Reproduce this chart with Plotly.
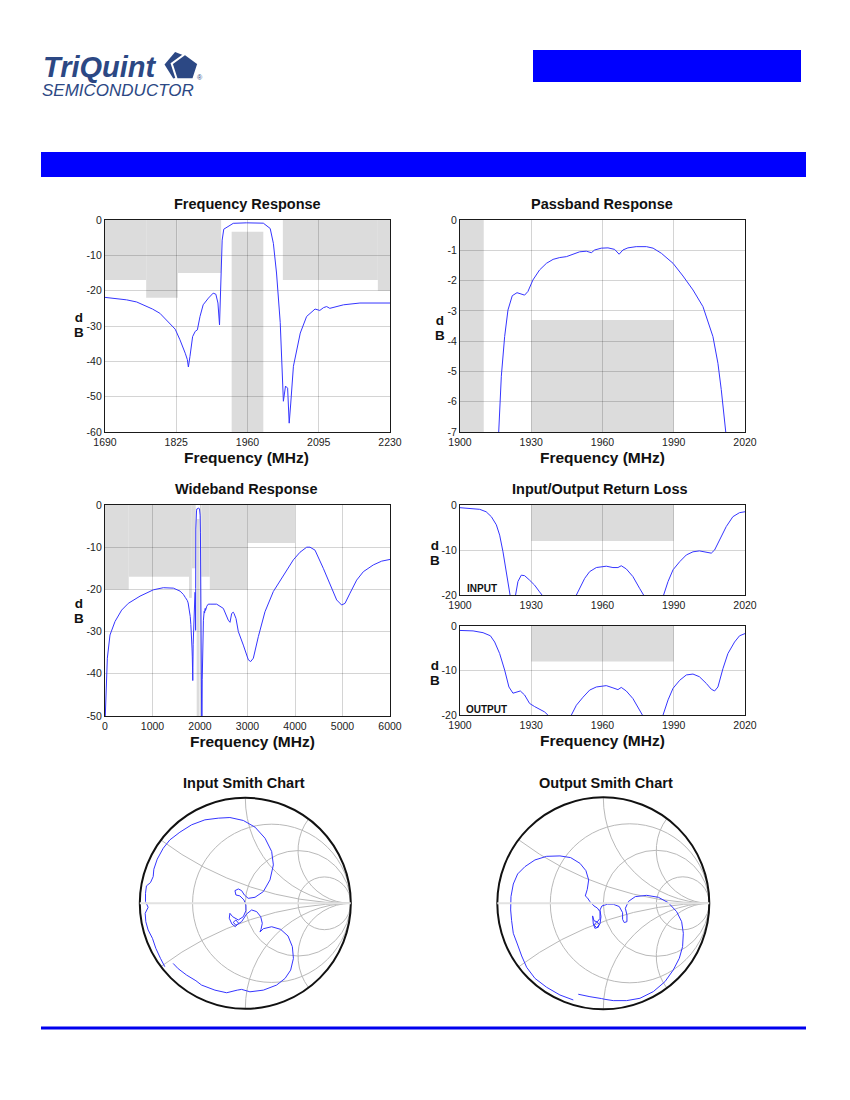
import numpy as np
import plotly.graph_objects as go

W, H = 850, 1100
OFF = 8  # the page body adds an 8 px margin around the figure

# ---- curves ----
fr_f = [1690, 1710, 1731, 1750, 1763, 1780, 1794, 1807, 1815, 1823, 1832, 1838, 1842, 1846, 1848,
        1851, 1856, 1861, 1865, 1870, 1876, 1886, 1895, 1900, 1904, 1907, 1909, 1912, 1915, 1920,
        1927, 1933, 1958, 1975, 1990, 2003, 2009, 2015, 2022, 2028, 2032, 2036, 2039, 2042, 2047,
        2060, 2072, 2088, 2097, 2104, 2110, 2116, 2142, 2173, 2230]
fr_db = [-21.9, -22.2, -22.6, -23.2, -24.0, -25.2, -26.4, -28.3, -29.5, -30.9, -33.9, -36.0, -37.7, -39.5, -41.6,
         -38.6, -33.0, -31.5, -31.1, -27.3, -24.0, -22.1, -20.7, -21.0, -23.5, -29.7, -19.8, -5.7, -2.6, -2.2,
         -1.4, -0.94, -0.8, -0.75, -0.9, -2.4, -6.6, -15.0, -29.0, -51.3, -47.0, -47.6, -57.5, -51.8, -41.4,
         -32.0, -27.3, -25.2, -25.6, -24.8, -24.5, -25.0, -24.0, -23.5, -23.5]

pb_f = [1915.8, 1916.3, 1917.4, 1918.8, 1920.2, 1922.0, 1924.0, 1925.8, 1927.2, 1928.6,
        1930.7, 1933.5, 1936.4, 1939.2, 1942.0, 1944.8, 1947.6, 1950.4, 1953.2, 1955.3,
        1956.7, 1959.5, 1962.3, 1965.1, 1967.0, 1968.6, 1970.7, 1974.2, 1978.5, 1981.3,
        1984.8, 1989.7, 1993.9, 1998.1, 2002.3, 2006.5, 2008.6, 2010.0, 2011.9, 2012.3]
pb_db = [-7.6, -7.0, -5.16, -3.85, -2.97, -2.5, -2.4, -2.44, -2.48, -2.36,
         -1.98, -1.65, -1.43, -1.3, -1.24, -1.21, -1.12, -1.05, -1.03, -1.08,
         -0.99, -0.93, -0.92, -0.97, -1.13, -0.99, -0.92, -0.88, -0.88, -0.93,
         -1.1, -1.43, -1.85, -2.31, -2.86, -3.85, -4.73, -5.6, -7.0, -7.5]

wb_lo_f = [0, 21, 49, 105, 211, 351, 491, 737, 1018, 1228, 1439, 1579, 1650]
wb_lo_db = [-52, -42.6, -36.3, -30.8, -27.6, -24.9, -23.3, -21.6, -20.1, -19.6, -19.7, -20.4, -21.2]
wb_hi_f = [2351, 2491, 2596, 2632, 2667, 2700, 2716, 2758, 2807, 2912, 3018, 3067, 3123, 3228, 3368,
           3544, 3754, 3965, 4105, 4246, 4316, 4421, 4596, 4737, 4877, 4982, 5053, 5158, 5298, 5439,
           5649, 5825, 6000]
wb_hi_db = [-23.5, -24.5, -27.3, -27.8, -25.7, -25.4, -25.7, -26.9, -30.0, -33.2, -36.7, -37.1, -36.3, -31.2, -25.3,
            -20.5, -16.6, -13.0, -11.2, -10.0, -10.0, -10.7, -15.0, -19.0, -22.5, -23.7, -23.3, -20.9, -17.8, -15.8,
            -14.2, -13.3, -12.9]

rl_in_f = [1900, 1904, 1908.3, 1911, 1913.2, 1915.3, 1916.7, 1918.1, 1919.5, 1920.6,
           1922.0, 1923.4, 1924.4, 1925.8, 1927.2, 1929.3, 1931.4, 1933.5, 1934.7, 1942,
           1949, 1950.4, 1952.5, 1954.6, 1957.4, 1961.6, 1964.4, 1966.5, 1967.9, 1970,
           1972.8, 1975.6, 1977.3, 1982, 1985.9, 1987.6, 1989.7, 1992.5, 1995.3, 1998.1,
           2000.8, 2003.7, 2005.8, 2007.2, 2009.3, 2012.1, 2014.9, 2017.7, 2020]
rl_in_db = [-0.6, -0.74, -0.96, -1.5, -2.6, -4.4, -6.7, -10.4, -15.6, -20.0,
            -23.0, -20.0, -17.0, -15.6, -15.7, -16.7, -17.8, -19.3, -20.0, -25.0,
            -20.0, -18.5, -16.3, -14.8, -13.9, -13.6, -13.9, -13.9, -13.5, -14.2,
            -15.9, -18.5, -20.0, -26.0, -20.0, -17.0, -14.4, -12.6, -11.1, -10.4,
            -10.2, -10.5, -10.7, -10.0, -7.8, -4.8, -2.6, -1.7, -1.5]

rl_out_f = [1900, 1905.5, 1909.7, 1912.8, 1914.6, 1916.7, 1918.8, 1920.6, 1922.3, 1923.7,
            1925.4, 1927.2, 1929.3, 1931.4, 1933.5, 1935.6, 1937.0, 1942, 1946.9, 1949.0,
            1951.8, 1954.6, 1957.4, 1961.6, 1964.4, 1966.5, 1967.9, 1970.0, 1972.8, 1974.9,
            1976.8, 1981, 1985.5, 1987.6, 1989.7, 1992.5, 1995.3, 1998.1, 2000.8, 2003.7,
            2005.8, 2007.2, 2008.6, 2010.7, 2012.8, 2015.6, 2017.7, 2020]
rl_out_db = [-1.0, -1.1, -1.5, -2.2, -3.6, -6.2, -9.9, -13.7, -15.1, -14.9,
             -14.6, -15.5, -17.4, -18.1, -18.7, -19.3, -20.0, -24.0, -20.0, -17.8,
             -16.0, -14.4, -13.7, -13.4, -13.9, -14.3, -13.8, -14.6, -16.3, -18.1,
             -20.0, -26.0, -20.0, -16.6, -14.0, -12.2, -11.0, -10.8, -11.4, -12.9,
             -14.2, -14.6, -13.7, -9.6, -6.2, -3.6, -2.2, -1.7]

# reflection coefficient (gamma) traces
s11_re = [-0.763, -0.804, -0.848, -0.880, -0.921, -0.943, -0.949, -0.921, -0.946, -0.946,
          -0.937, -0.899, -0.873, -0.867, -0.835, -0.778, -0.715, -0.620, -0.509, -0.383,
          -0.256, -0.146, -0.019, 0.092, 0.187, 0.250, 0.266, 0.234, 0.171, 0.092,
          0.028, -0.009, -0.035, -0.066, -0.098, -0.089, -0.051, -0.013, 0.006, 0.006,
          -0.019, -0.066, -0.120, -0.146, -0.152, -0.127, -0.095, -0.063, -0.089, -0.114,
          -0.089, -0.035, 0.013, 0.060, 0.108, 0.146, 0.161, 0.149, 0.139, 0.171,
          0.250, 0.335, 0.405, 0.446, 0.456, 0.430, 0.377, 0.297, 0.171, 0.044,
          -0.035, -0.076, -0.177, -0.288, -0.415, -0.468, -0.557, -0.636, -0.684]
s11_im = [-0.601, -0.522, -0.427, -0.332, -0.253, -0.174, -0.095, -0.038, 0.016, 0.095,
          0.165, 0.196, 0.253, 0.323, 0.418, 0.522, 0.601, 0.674, 0.744, 0.791,
          0.807, 0.813, 0.785, 0.722, 0.617, 0.491, 0.364, 0.222, 0.111, 0.057,
          0.047, 0.079, 0.120, 0.136, 0.120, 0.079, 0.070, 0.032, -0.016, -0.070,
          -0.127, -0.158, -0.127, -0.095, -0.142, -0.196, -0.222, -0.190, -0.158, -0.180,
          -0.209, -0.174, -0.101, -0.063, -0.079, -0.127, -0.190, -0.247, -0.272, -0.241,
          -0.222, -0.247, -0.310, -0.411, -0.522, -0.633, -0.712, -0.775, -0.823, -0.839,
          -0.816, -0.823, -0.848, -0.823, -0.775, -0.734, -0.680, -0.620, -0.570]

s22_re = [-0.283, -0.409, -0.535, -0.645, -0.723, -0.770, -0.811, -0.849, -0.865, -0.874,
          -0.871, -0.849, -0.808, -0.739, -0.645, -0.535, -0.409, -0.308, -0.220, -0.164,
          -0.138, -0.151, -0.170, -0.151, -0.126, -0.088, -0.057, -0.031, -0.031, -0.057,
          -0.088, -0.101, -0.094, -0.079, -0.047, -0.038, -0.063, -0.088, -0.063, -0.031,
          -0.022, -0.031, -0.013, 0.038, 0.094, 0.151, 0.182, 0.182, 0.198, 0.223,
          0.223, 0.208, 0.239, 0.302, 0.409, 0.519, 0.613, 0.692, 0.739, 0.755,
          0.748, 0.717, 0.660, 0.582, 0.472, 0.346, 0.220, 0.094, 0.016, -0.016,
          -0.126, -0.236]
s22_im = [-0.912, -0.865, -0.792, -0.708, -0.604, -0.497, -0.384, -0.283, -0.164, -0.063,
          0.063, 0.182, 0.277, 0.346, 0.409, 0.443, 0.447, 0.431, 0.377, 0.308,
          0.220, 0.132, 0.069, 0.053, 0.016, -0.025, -0.044, -0.079, -0.142, -0.176,
          -0.164, -0.119, -0.195, -0.236, -0.226, -0.195, -0.176, -0.204, -0.230, -0.195,
          -0.126, -0.063, -0.025, -0.009, -0.009, -0.031, -0.088, -0.151, -0.182, -0.173,
          -0.110, -0.047, 0.019, 0.063, 0.075, 0.057, 0.006, -0.079, -0.173, -0.283,
          -0.409, -0.519, -0.629, -0.739, -0.833, -0.896, -0.918, -0.918, -0.906, -0.899,
          -0.881, -0.858]

# spec masks
stop_f0 = [0, 500, 1768, 1828, 2027, 2207, 3000]
stop_f1 = [500, 1768, 1828, 1910, 2207, 3000, 4000]
stop_db = [-20, -17, -22, -15, -17, -20, -9]
pass_f = [1930, 1990]
pass_db = -3.3
rl_f = [1930, 1990]
rl_db = -8

# ticks
fr_xt = [1690, 1825, 1960, 2095, 2230]
fr_yt = [0, -10, -20, -30, -40, -50, -60]
pb_xt = [1900, 1930, 1960, 1990, 2020]
pb_yt = [0, -1, -2, -3, -4, -5, -6, -7]
wb_xt = [0, 1000, 2000, 3000, 4000, 5000, 6000]
wb_yt = [0, -10, -20, -30, -40, -50]
rl_yt = [0, -10, -20]
smith_r = [1 / 3, 1, 3]
smith_x = [-2, -1, -1 / 3, 1 / 3, 1, 2]

BLUE = "#3535ff"
NAVY = "#2c4884"
FONT = "Arial, Liberation Sans, sans-serif"
MASK = "#dcdcdc"
GRID = "rgba(0,0,0,0.17)"


def px(x):
    return (x - OFF) / W


def py(y):
    return 1 - (y - OFF) / H


def hy(v):
    return "-" + str(abs(v)) if v < 0 else str(v)


fig = go.Figure()
shapes = []
annotations = []

panels = [
    # axis id, x px, y px, x ticks, y ticks, mask kind
    ("", (105, 390), (220, 432), fr_xt, fr_yt, "spec"),
    ("2", (460, 745), (220, 432), pb_xt, pb_yt, "spec"),
    ("3", (105, 390), (505, 716), wb_xt, wb_yt, "spec"),
    ("4", (460, 745), (505, 595), pb_xt, rl_yt, "rl"),
    ("5", (460, 745), (626, 715), pb_xt, rl_yt, "rl"),
]
series = [(fr_f, fr_db), (pb_f, pb_db), (wb_lo_f + fr_f + wb_hi_f, wb_lo_db + fr_db + wb_hi_db),
          (rl_in_f, rl_in_db), (rl_out_f, rl_out_db)]

for (ax, xd, yd, xt, yt, kind), (xs, ys) in zip(panels, series):
    xmin, xmax = xt[0], xt[-1]
    ymin, ymax = yt[-1], yt[0]
    axis_common = dict(showline=True, mirror=True, linecolor="#1a1a1a", linewidth=1.2,
                       showgrid=True, gridcolor=GRID, gridwidth=1, ticks="", zeroline=False,
                       automargin=False, tickfont=dict(family=FONT, size=10.5, color="#222"))
    fig.layout["xaxis" + ax] = dict(axis_common, domain=[px(xd[0]), px(xd[1])], range=[xmin, xmax],
                                    tickvals=xt, ticktext=[str(v) for v in xt],
                                    anchor="y" + ax)
    fig.layout["yaxis" + ax] = dict(axis_common, domain=[py(yd[1]), py(yd[0])], range=[ymin, ymax],
                                    tickvals=yt, ticktext=[hy(v) for v in yt],
                                    anchor="x" + ax)
    fig.add_trace(go.Scatter(x=xs, y=ys, mode="lines", line=dict(color=BLUE, width=1),
                             xaxis="x" + ax, yaxis="y" + ax, showlegend=False, hoverinfo="skip"))

    rects = []
    if kind == "spec":
        for a, b, lv in zip(stop_f0, stop_f1, stop_db):
            rects.append((a, b, max(lv, ymin), 0))
        rects.append((pass_f[0], pass_f[1], ymin, pass_db))
    else:
        rects.append((rl_f[0], rl_f[1], rl_db, 0))
    for a, b, y0, y1 in rects:
        a, b = max(a, xmin), min(b, xmax)
        if a >= b:
            continue
        shapes.append(dict(type="rect", xref="x" + ax, yref="y" + ax, x0=a, x1=b, y0=y0, y1=y1,
                           fillcolor=MASK, line=dict(width=0), layer="below"))

# Smith charts
for name, re_, im_ in (("smith", s11_re, s11_im), ("smith2", s22_re, s22_im)):
    g = np.array(re_) + 1j * np.array(im_)
    z = (1 + g) / (1 - g)
    fig.add_trace(go.Scattersmith(real=z.real, imag=z.imag, mode="lines", subplot=name,
                                  line=dict(color=BLUE, width=1), showlegend=False,
                                  hoverinfo="skip"))

smith_layout = dict(
    bgcolor="white",
    realaxis=dict(tickvals=smith_r, showticklabels=False, ticks="", gridcolor="#b9b9b9",
                  gridwidth=1, showline=True, linecolor="#e2e2e2", linewidth=2),
    imaginaryaxis=dict(tickvals=smith_x, showticklabels=False, ticks="", gridcolor="#b9b9b9",
                       gridwidth=1, showline=True, linecolor="#111111", linewidth=2),
)
fig.layout.smith = dict(smith_layout, domain=dict(x=[px(139.8), px(350.8)], y=[py(1008.8), py(797.8)]))
fig.layout.smith2 = dict(smith_layout, domain=dict(x=[px(497.3), px(709.3)], y=[py(1009.3), py(797.3)]))


def text(x, y, s, size, bold=True, color="#111", family=FONT, xanchor="center"):
    annotations.append(dict(x=px(x), y=py(y), xref="paper", yref="paper", text=("<b>%s</b>" % s) if bold else s,
                            showarrow=False, xanchor=xanchor, yanchor="middle",
                            font=dict(family=family, size=size, color=color)))


# titles
text(247, 204, "Frequency Response", 14.5)
text(602, 204, "Passband Response", 14.5)
text(246, 489, "Wideband Response", 14.5)
text(600, 489, "Input/Output Return Loss", 14.5)
text(244, 783, "Input Smith Chart", 14.5)
text(606, 783, "Output Smith Chart", 14.5)
for x, y in ((246, 457), (602, 457), (252, 741), (602, 740)):
    text(x, y, "Frequency (MHz)", 15.5)
# stacked "d" over "B": the base size sets the line step, the span sets the glyph size
db_label = '<span style="font-size:13.5px">d</span><br><span style="font-size:13.5px">B</span>'
for x, y in ((79, 317), (440, 320), (79, 603), (435, 545), (435, 665)):
    text(x, y + 7.75, db_label, 11.9)
text(482, 588, "INPUT", 10)
text(486, 709, "OUTPUT", 10)

# logo
text(41, 67, "<i>TriQuint</i>", 29, color=NAVY, xanchor="left")
text(40, 91, "<i>SEMICONDUCTOR</i>", 17, bold=False, color=NAVY, xanchor="left")
text(200, 78, "®", 7, bold=False, color=NAVY)


def pent(cx, cy, r, rot):
    pts = []
    for k in range(5):
        t = np.radians(-90 + rot + 72 * k)
        pts.append((px(cx + r * np.cos(t)), py(cy + r * np.sin(t))))
    return "M " + " L ".join("%f %f" % p for p in pts) + " Z"


shapes.append(dict(type="path", xref="paper", yref="paper", path=pent(178.5, 65.5, 14, -14),
                   fillcolor=NAVY, line=dict(width=0)))
shapes.append(dict(type="path", xref="paper", yref="paper", path=pent(185, 68, 14, 0),
                   fillcolor=NAVY, line=dict(color="white", width=2)))

# page decoration bars
shapes.append(dict(type="rect", xref="paper", yref="paper", x0=px(533), x1=px(801), y0=py(82), y1=py(50),
                   fillcolor="#0000ff", line=dict(width=0)))
shapes.append(dict(type="rect", xref="paper", yref="paper", x0=px(41), x1=px(806), y0=py(177), y1=py(152),
                   fillcolor="#0000ff", line=dict(width=0)))
shapes.append(dict(type="rect", xref="paper", yref="paper", x0=px(41), x1=px(806), y0=py(1029.5), y1=py(1026.5),
                   fillcolor="#0000ee", line=dict(width=0)))

fig.update_layout(width=W, height=H, margin=dict(l=0, r=0, t=0, b=0, autoexpand=False),
                  paper_bgcolor="white", plot_bgcolor="white", shapes=shapes,
                  annotations=annotations, showlegend=False, font=dict(family=FONT))

fig.write_html("out.html")
